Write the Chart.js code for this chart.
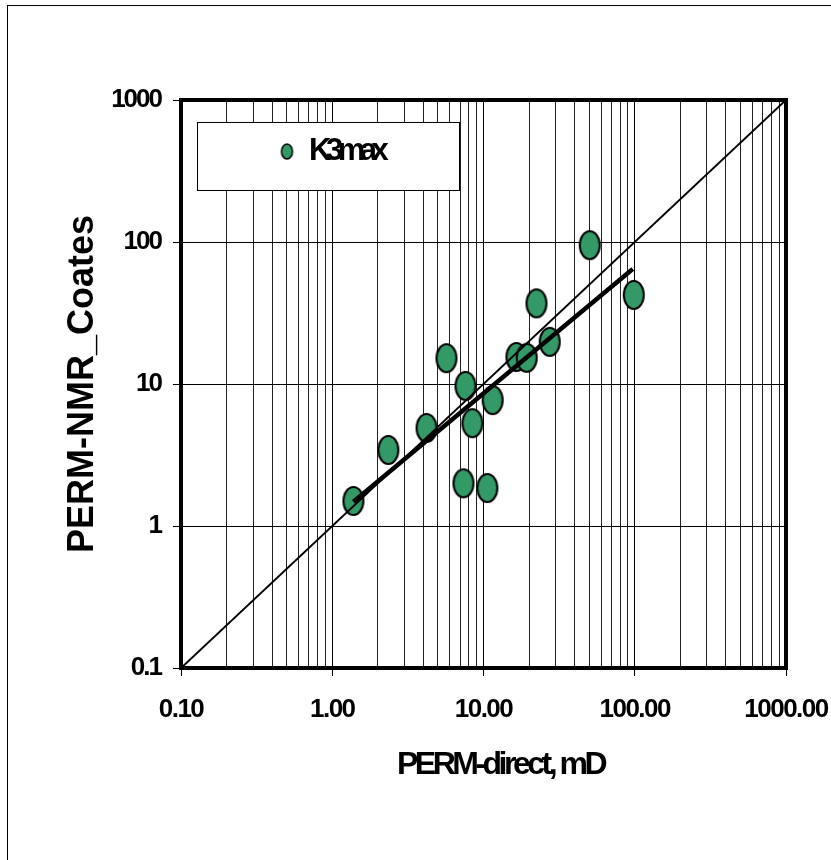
<!DOCTYPE html>
<html lang="fr">
<head>
<meta charset="utf-8">
<title>PERM-NMR_Coates / PERM-direct</title>
<script src="https://cdn.jsdelivr.net/npm/chart.js@4.4.1/dist/chart.umd.min.js"></script>
<style>
  html, body { margin: 0; padding: 0; background: #fff; }
  canvas { display: block; }
</style>
</head>
<body>
<canvas id="myChartPerm" width="831" height="860"></canvas>
<script>
//? Données.

const permDirect = [1.38, 2.35, 4.2, 5.69, 7.6, 8.45, 7.37, 10.6, 11.5, 16.5, 19.3, 22.4, 27.4, 50.4, 98.5];
const permNmrCoates = [1.5, 3.43, 4.9, 15.2, 9.7, 5.3, 2.0, 1.85, 7.7, 15.5, 15.3, 37, 19.8, 95, 42.4];

const tendanceX = [1.38, 97];
const tendanceY = [1.48, 64.5];

const diagonaleX = [0.1, 1000];
const diagonaleY = [0.1, 1000];

const decadesX = [0.1, 1, 10, 100, 1000];
const etiquettesX = ["0.10", "1.00", "10.00", "100.00", "1000.00"];
const decadesY = [0.1, 1, 10, 100, 1000];
const etiquettesY = ["0.1", "1", "10", "100", "1000"];
const multiplicateursMineurs = [2, 3, 4, 5, 6, 7, 8, 9];

//? -------------------------------------------------

//? Marqueurs (ellipses vertes, comme dans l'original).

const creerMarqueur = (rx, ry, epaisseur) => {
  const c = document.createElement("canvas");
  c.width = Math.ceil(2 * rx + epaisseur + 2);
  c.height = Math.ceil(2 * ry + epaisseur + 2);
  const g = c.getContext("2d");
  g.beginPath();
  g.ellipse(c.width / 2, c.height / 2, rx, ry, 0, 0, Math.PI * 2);
  g.fillStyle = "#339966";
  g.fill();
  g.lineWidth = epaisseur;
  g.strokeStyle = "#000";
  g.stroke();
  return c;
};

const marqueurPoint = creerMarqueur(10, 14, 2);
const marqueurLegende = creerMarqueur(5.5, 7.5, 1.5);

//? -------------------------------------------------

//? Graduations.

const indexDecade = (liste, v) =>
  liste.findIndex((d) => Math.abs(Math.log10(d) - Math.log10(v)) < 1e-6);

const graduationsX = () => {
  const ticks = [];
  decadesX.forEach((d, i) => {
    ticks.push({ value: d, major: true });
    if (i < decadesX.length - 1) {
      multiplicateursMineurs.forEach((m) => ticks.push({ value: d * m, major: false }));
    }
  });
  return ticks;
};

const espacements = {
  x: { ticks: "-1.5px", titre: "-3.5px", decalageTitre: 17 },
  y: { ticks: "-2px", titre: "0px", decalageTitre: 0 },
};

//? -------------------------------------------------

//? Plugin de mise en page (fond, cadres, espacement des lettres).

const pluginMiseEnPage = {
  id: "miseEnPage",
  beforeDraw(chart) {
    const ctx = chart.ctx;
    ctx.save();
    ctx.fillStyle = "#fff";
    ctx.fillRect(0, 0, chart.width, chart.height);
    ctx.strokeStyle = "#000";
    ctx.lineWidth = 1;
    ctx.strokeRect(7.5, 5.5, chart.width + 20, chart.height + 20);
    ctx.restore();

    Object.keys(espacements).forEach((id) => {
      const scale = chart.scales[id];
      if (!scale || scale._espace) return;
      const reglage = espacements[id];
      const titreOrig = scale.drawTitle.bind(scale);
      const labelsOrig = scale.drawLabels.bind(scale);
      scale.drawTitle = () => {
        ctx.save();
        ctx.letterSpacing = reglage.titre;
        ctx.translate(reglage.decalageTitre, 0);
        titreOrig();
        ctx.restore();
      };
      scale.drawLabels = (zone) => {
        ctx.save();
        ctx.letterSpacing = reglage.ticks;
        labelsOrig(zone);
        ctx.restore();
      };
      scale._espace = true;
    });
  },
  afterLayout(chart) {
    const legende = chart.legend;
    if (!legende) return;
    legende.left = 270.5;
    legende.top = 126;
    legende.right = 459;
    legende.bottom = 190;
    legende.width = legende.right - legende.left;
    legende.height = legende.bottom - legende.top;
    if (!legende._cadre) {
      const dessinOrig = legende.draw.bind(legende);
      legende.draw = () => {
        const ctx = chart.ctx;
        ctx.save();
        ctx.fillStyle = "#fff";
        ctx.fillRect(197, 122, 262, 68);
        ctx.strokeStyle = "#000";
        ctx.lineWidth = 1;
        ctx.strokeRect(197.5, 122.5, 262, 68);
        ctx.letterSpacing = "-5.5px";
        dessinOrig();
        ctx.restore();
      };
      legende._cadre = true;
    }
  },
  afterDraw(chart) {
    const ctx = chart.ctx;
    const { left, top, right, bottom } = chart.chartArea;
    ctx.save();
    ctx.strokeStyle = "#000";
    ctx.lineWidth = 4;
    ctx.strokeRect(left, top, right - left, bottom - top);
    ctx.restore();
  },
};

//? -------------------------------------------------

//? Construction du graphique.

const constructionDuGraphiquePerm = () => {
  try {
    Chart.defaults.font.family = "'Liberation Sans', Arial, sans-serif";
    Chart.defaults.font.weight = "bold";
    Chart.defaults.color = "#000";

    const ctxPerm = document.getElementById("myChartPerm").getContext("2d");

    const data = {
      datasets: [
        {
          label: "Tendance",
          data: tendanceX.map((x, i) => ({ x, y: tendanceY[i] })),
          showLine: true,
          borderColor: "#000",
          borderWidth: 4.5,
          pointRadius: 0,
        },
        {
          label: "1:1",
          data: diagonaleX.map((x, i) => ({ x, y: diagonaleY[i] })),
          showLine: true,
          borderColor: "#000",
          borderWidth: 2,
          pointRadius: 0,
        },
        {
          label: "K3max",
          data: permDirect.map((x, i) => ({ x, y: permNmrCoates[i] })),
          pointStyle: marqueurPoint,
          pointRadius: 12,
          backgroundColor: "#339966",
          borderColor: "#000",
        },
      ],
    };

    const options = {
      responsive: false,
      animation: false,
      events: [],
      layout: { padding: { top: 100, right: 45, bottom: 0, left: 0 } },
      plugins: {
        legend: {
          position: "chartArea",
          align: "start",
          labels: {
            usePointStyle: true,
            pointStyle: marqueurLegende,
            boxWidth: 13,
            padding: 10,
            color: "#000",
            font: { size: 31, weight: "bold" },
            filter: (item) => item.datasetIndex === 2,
          },
        },
        tooltip: { enabled: false },
      },
      scales: {
        x: {
          type: "logarithmic",
          min: 0.1,
          max: 1000,
          afterBuildTicks: (scale) => {
            scale.ticks = graduationsX();
          },
          afterFit: (scale) => {
            scale.height = 192;
            scale.paddingLeft = 0;
            scale.paddingRight = 0;
          },
          ticks: {
            autoSkip: false,
            maxRotation: 0,
            padding: 18,
            color: "#000",
            font: { size: 26, weight: "bold" },
            callback: (v) => {
              const i = indexDecade(decadesX, v);
              return i >= 0 ? etiquettesX[i] : "";
            },
          },
          grid: {
            color: (c) => (c.tick && c.tick.major ? "#000" : "#222"),
            lineWidth: 1,
            tickLength: 8,
            tickColor: (c) => (c.tick && c.tick.major ? "#000" : "rgba(0,0,0,0)"),
          },
          border: { color: "#000", width: 4 },
          title: {
            display: true,
            text: "PERM-direct, mD",
            color: "#000",
            font: { size: 32, weight: "bold" },
            padding: { top: 0, bottom: 76 },
          },
        },
        y: {
          type: "logarithmic",
          min: 0.1,
          max: 1000,
          afterBuildTicks: (scale) => {
            scale.ticks = decadesY.map((v) => ({ value: v, major: true }));
          },
          afterFit: (scale) => {
            scale.width = 181;
            scale.paddingTop = 0;
            scale.paddingBottom = 0;
          },
          ticks: {
            autoSkip: false,
            padding: 12,
            color: "#000",
            font: { size: 26, weight: "bold" },
            callback: (v) => {
              const i = indexDecade(decadesY, v);
              return i >= 0 ? etiquettesY[i] : "";
            },
          },
          grid: { color: "#000", lineWidth: 1, tickLength: 8, tickColor: "#000" },
          border: { color: "#000", width: 4 },
          title: {
            display: true,
            text: "PERM-NMR_Coates",
            color: "#000",
            font: { size: 36, weight: "bold" },
            padding: { top: 61, bottom: 0 },
          },
        },
      },
    };

    new Chart(ctxPerm, { type: "scatter", data, options, plugins: [pluginMiseEnPage] });
  } catch (error) {
    console.log("🔴 ERREUR | Construction graphique :", error);
  }
};

constructionDuGraphiquePerm();
</script>
</body>
</html>
